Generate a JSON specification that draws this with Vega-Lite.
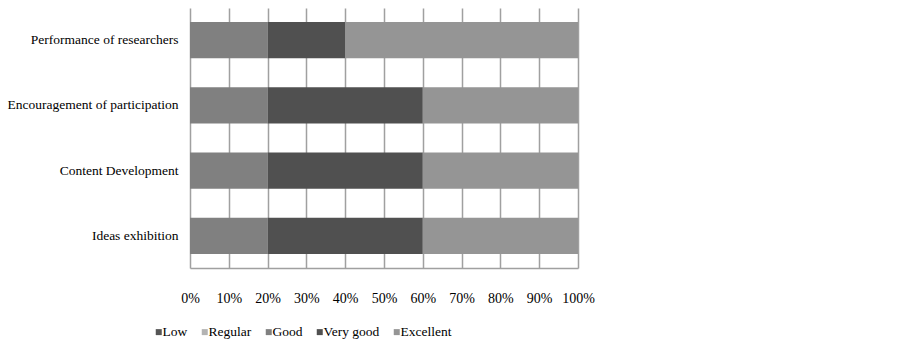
{
  "$schema": "https://vega.github.io/schema/vega-lite/v6.json",
  "width": 388,
  "height": 260,
  "autosize": {"type": "none"},
  "padding": {"left": 190, "top": 8, "right": 324, "bottom": 75},
  "background": "white",
  "config": {
    "view": {"stroke": null},
    "font": "Liberation Serif",
    "axis": {"labelFont": "Liberation Serif", "labelFontSize": 14, "labelColor": "#000"},
    "legend": {"labelFont": "Liberation Serif", "labelFontSize": 13.5, "labelColor": "#000"}
  },
  "data": {
    "values": [
      {"item": "Performance of researchers", "rating": "Low", "rank": 1, "pct": 0},
      {"item": "Performance of researchers", "rating": "Regular", "rank": 2, "pct": 0},
      {"item": "Performance of researchers", "rating": "Good", "rank": 3, "pct": 20},
      {"item": "Performance of researchers", "rating": "Very good", "rank": 4, "pct": 20},
      {"item": "Performance of researchers", "rating": "Excellent", "rank": 5, "pct": 60},
      {"item": "Encouragement of participation", "rating": "Low", "rank": 1, "pct": 0},
      {"item": "Encouragement of participation", "rating": "Regular", "rank": 2, "pct": 0},
      {"item": "Encouragement of participation", "rating": "Good", "rank": 3, "pct": 20},
      {"item": "Encouragement of participation", "rating": "Very good", "rank": 4, "pct": 40},
      {"item": "Encouragement of participation", "rating": "Excellent", "rank": 5, "pct": 40},
      {"item": "Content Development", "rating": "Low", "rank": 1, "pct": 0},
      {"item": "Content Development", "rating": "Regular", "rank": 2, "pct": 0},
      {"item": "Content Development", "rating": "Good", "rank": 3, "pct": 20},
      {"item": "Content Development", "rating": "Very good", "rank": 4, "pct": 40},
      {"item": "Content Development", "rating": "Excellent", "rank": 5, "pct": 40},
      {"item": "Ideas exhibition", "rating": "Low", "rank": 1, "pct": 0},
      {"item": "Ideas exhibition", "rating": "Regular", "rank": 2, "pct": 0},
      {"item": "Ideas exhibition", "rating": "Good", "rank": 3, "pct": 20},
      {"item": "Ideas exhibition", "rating": "Very good", "rank": 4, "pct": 40},
      {"item": "Ideas exhibition", "rating": "Excellent", "rank": 5, "pct": 40}
    ]
  },
  "mark": {"type": "bar"},
  "encoding": {
    "y": {
      "field": "item",
      "type": "nominal",
      "sort": ["Performance of researchers", "Encouragement of participation", "Content Development", "Ideas exhibition"],
      "scale": {"paddingInner": 0.446, "paddingOuter": 0.215},
      "axis": {"title": null, "domain": false, "ticks": false, "labelPadding": 12, "grid": false, "labelFontSize": 13.5}
    },
    "x": {
      "field": "pct",
      "type": "quantitative",
      "stack": "normalize",
      "scale": {"domain": [0, 1], "nice": false},
      "axis": {
        "title": null,
        "format": ".0%",
        "values": [0, 0.1, 0.2, 0.3, 0.4, 0.5, 0.6, 0.7, 0.8, 0.9, 1],
        "grid": true,
        "gridColor": "#a0a0a0",
        "gridWidth": 1.5,
        "gridOpacity": 1,
        "domain": true,
        "domainColor": "#a0a0a0",
        "domainWidth": 1.5,
        "ticks": false,
        "labelPadding": 23,
        "labelFlush": false
      }
    },
    "color": {
      "field": "rating",
      "type": "nominal",
      "scale": {
        "domain": ["Low", "Regular", "Good", "Very good", "Excellent"],
        "range": ["#565656", "#b3b3b3", "#808080", "#505050", "#959595"]
      },
      "legend": {
        "title": null,
        "orient": "none",
        "direction": "horizontal",
        "legendX": -38,
        "legendY": 317,
        "symbolType": "square",
        "symbolSize": 36,
        "symbolStrokeWidth": 0,
        "columnPadding": 10,
        "labelOffset": -3
      }
    },
    "order": {"field": "rank", "type": "quantitative"}
  }
}
